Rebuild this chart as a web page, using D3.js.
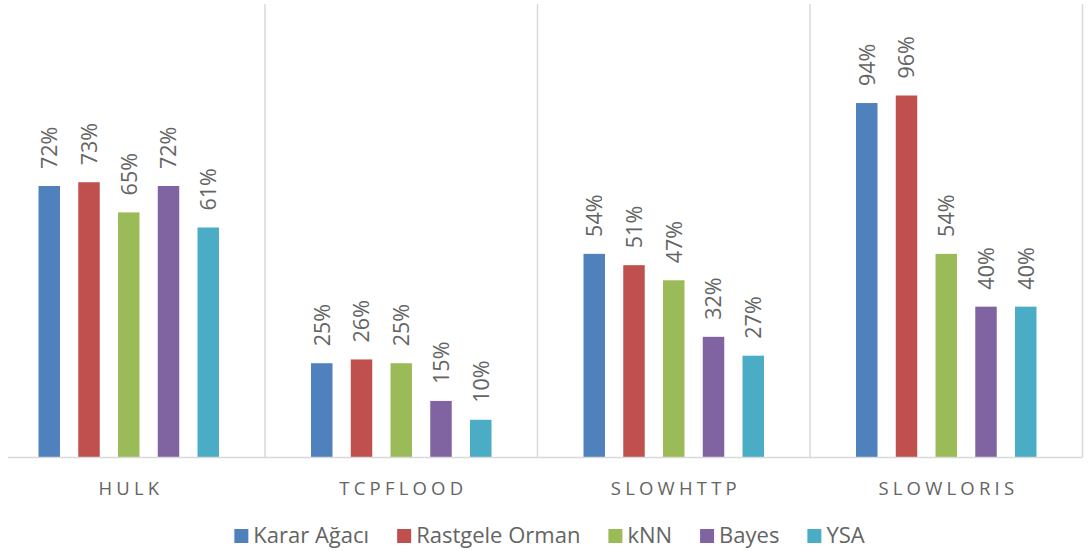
<!DOCTYPE html>
<html>
<head>
<meta charset="utf-8">
<script src="https://cdn.jsdelivr.net/npm/d3@7"></script>
<style>
  html, body { margin: 0; padding: 0; background: #ffffff; }
  svg { display: block; }
</style>
</head>
<body>
<svg id="chart" width="1088" height="551"></svg>
<script>
// Attack types on the x axis
const categories = ["HULK", "TCPFLOOD", "SLOWHTTP", "SLOWLORIS"];
// Classifiers (one bar per classifier in each group)
const seriesNames = ["Karar Ağacı", "Rastgele Orman", "kNN", "Bayes", "YSA"];
const seriesColors = ["#4F81BD", "#C0504D", "#9BBB59", "#8064A2", "#4BACC6"];
// Values in percent, one array per classifier, ordered like categories
const kararAgaci    = [72, 25, 54, 94];
const rastgeleOrman = [73, 26, 51, 96];
const knn           = [65, 25, 47, 54];
const bayes         = [72, 15, 32, 40];
const ysa           = [61, 10, 27, 40];
const seriesValues = [kararAgaci, rastgeleOrman, knn, bayes, ysa];
const yDomain = [0, 120];

const FONT = "'Open Sans', sans-serif";
const svg = d3.select("#chart");

const plot = { left: -7.5, right: 1082.5, top: 5, bottom: 457.5 };

const x0 = d3.scaleBand().domain(categories).range([plot.left, plot.right]).padding(0);
const groupWidth = 198.75;
const x1 = d3.scaleBand().domain(seriesNames)
  .range([-groupWidth / 2, groupWidth / 2])
  .paddingInner(0.46).paddingOuter(0.23);
const y = d3.scaleLinear().domain(yDomain).range([plot.bottom, plot.top]);

const gridColor = "#d9d9d9";
const textColor = "#646464";

// Vertical separators between the categories
svg.append("g").selectAll("line")
  .data(categories)
  .join("line")
  .attr("x1", d => x0(d) + x0.bandwidth())
  .attr("x2", d => x0(d) + x0.bandwidth())
  .attr("y1", y(yDomain[1]) - 1)
  .attr("y2", y(0))
  .attr("stroke", gridColor)
  .attr("stroke-width", 1.5);

// Bars and rotated value labels
const flat = [];
categories.forEach((c, ci) => {
  seriesNames.forEach((s, si) => {
    flat.push({ cat: c, series: s, color: seriesColors[si], value: seriesValues[si][ci] });
  });
});

svg.append("g").selectAll("rect")
  .data(flat)
  .join("rect")
  .attr("x", d => x0(d.cat) + x0.bandwidth() / 2 + x1(d.series))
  .attr("y", d => y(d.value))
  .attr("width", x1.bandwidth())
  .attr("height", d => y(0) - y(d.value))
  .attr("fill", d => d.color);

svg.append("g").selectAll("text")
  .data(flat)
  .join("text")
  .attr("transform", d => {
    const cx = x0(d.cat) + x0.bandwidth() / 2 + x1(d.series) + x1.bandwidth() / 2;
    return `translate(${cx},${y(d.value) - 17}) rotate(-90)`;
  })
  .attr("dy", "0.36em")
  .attr("text-anchor", "start")
  .attr("font-family", FONT)
  .attr("font-size", 21.5)
  .attr("fill", textColor)
  .text(d => d.value + "%");

// Baseline (category axis line)
svg.append("line")
  .attr("x1", 8).attr("x2", plot.right)
  .attr("y1", y(0)).attr("y2", y(0))
  .attr("stroke", gridColor)
  .attr("stroke-width", 1.5);

// Category labels, letter-spaced
const letterSpacing = 4.2;
svg.append("g").selectAll("text")
  .data(categories)
  .join("text")
  .attr("x", d => x0(d) + x0.bandwidth() / 2 + letterSpacing / 2)
  .attr("y", 494.5)
  .attr("text-anchor", "middle")
  .attr("font-family", FONT)
  .attr("font-size", 18.5)
  .attr("letter-spacing", letterSpacing)
  .attr("fill", textColor)
  .text(d => d);

// Legend
const legend = svg.append("g");
const sq = 14, sqGap = 5, itemGap = 28;
const items = legend.selectAll("g")
  .data(seriesNames.map((s, i) => ({ name: s, color: seriesColors[i] })))
  .join("g");
items.append("rect")
  .attr("y", 529)
  .attr("width", sq).attr("height", sq)
  .attr("fill", d => d.color);
items.append("text")
  .attr("x", sq + sqGap)
  .attr("y", 542.5)
  .attr("font-family", FONT)
  .attr("font-size", 22)
  .attr("fill", textColor)
  .text(d => d.name);

let widths = [];
items.each(function () {
  widths.push(sq + sqGap + d3.select(this).select("text").node().getComputedTextLength());
});
const total = d3.sum(widths) + itemGap * (widths.length - 1);
let cursor = 549.5 - total / 2;
items.attr("transform", (d, i) => {
  const t = `translate(${cursor},0)`;
  cursor += widths[i] + itemGap;
  return t;
});
</script>
</body>
</html>
